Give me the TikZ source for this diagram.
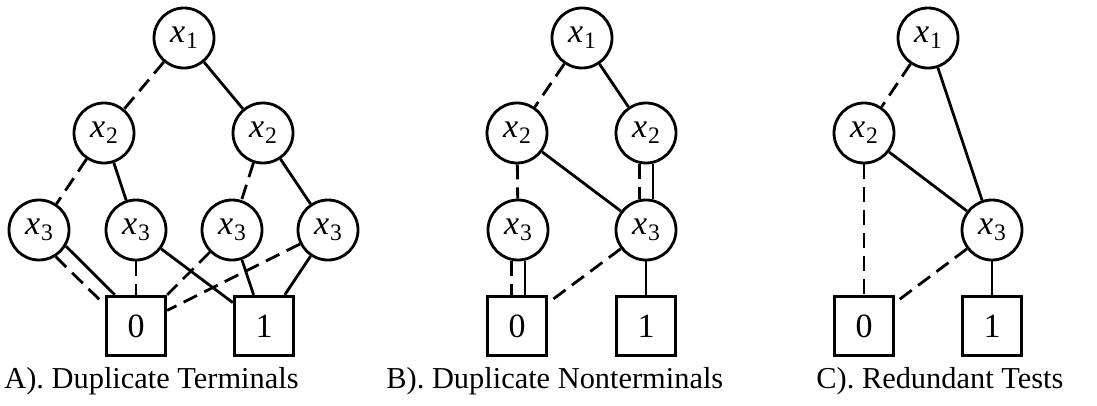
\documentclass[tikz,border=0pt]{standalone}
\usepackage{fontspec}
\setmainfont{Liberation Serif}
\newcommand{\xv}[1]{\textit{x}\kern0.03em\raisebox{-3pt}{\fontsize{11.8}{12}\selectfont #1}}
\begin{document}
\begin{tikzpicture}[x=0.5pt,y=-0.5pt, line width=1.4pt,
  vnode/.style={circle,draw,fill=white,minimum size=30pt,inner sep=0pt,font=\fontsize{17}{17}\selectfont},
  tnode/.style={rectangle,draw,fill=white,minimum size=29.8pt,inner sep=0pt,font=\fontsize{17}{17}\selectfont},
  lo/.style={dash pattern=on 7.5pt off 4pt},
  captext/.style={anchor=base west,inner sep=0pt,font=\fontsize{15.2}{16}\selectfont}]
\useasboundingbox (0,0) rectangle (1097,406);
% Panel A
\node[vnode] (x1A) at (184,38) {\xv{1}};
\node[vnode] (x2A1) at (104,133) {\xv{2}};
\node[vnode] (x2A2) at (263,133) {\xv{2}};
\node[vnode] (x3A1) at (39,230) {\xv{3}};
\node[vnode] (x3A2) at (136,230) {\xv{3}};
\node[vnode] (x3A3) at (232,230) {\xv{3}};
\node[vnode] (x3A4) at (328,230) {\xv{3}};
\node[tnode] (zA) at (136,326) {0};
\node[tnode] (oA) at (264,326) {1};
% Panel B
\node[vnode] (x1B) at (582,38) {\xv{1}};
\node[vnode] (x2B1) at (517,133) {\xv{2}};
\node[vnode] (x2B2) at (646,133) {\xv{2}};
\node[vnode] (x3B1) at (518,230) {\xv{3}};
\node[vnode] (x3B2) at (646,230) {\xv{3}};
\node[tnode] (zB) at (517,326) {0};
\node[tnode] (oB) at (646,326) {1};
% Panel C
\node[vnode] (x1C) at (928,38) {\xv{1}};
\node[vnode] (x2C) at (864,133) {\xv{2}};
\node[vnode] (x3C) at (992,230) {\xv{3}};
\node[tnode] (zC) at (864,326) {0};
\node[tnode] (oC) at (992,326) {1};
% captions
\node[captext] (capA) at (3,388) {A). Duplicate Terminals};
\node[captext] (capB) at (385,388) {B). Duplicate Nonterminals};
\node[captext] (capC) at (815,388) {C). Redundant Tests};
% edges A
\draw[lo] (x1A) -- (x2A1);
\draw (x1A) -- (x2A2);
\draw[lo] (x2A1) -- (x3A1);
\draw (x2A1) -- (x3A2);
\draw[lo] (x2A2) -- (x3A3);
\draw (x2A2) -- (x3A4);
\draw (x3A1.-31.5) -- ([xshift=5pt]zA.north west);
\draw[lo] (x3A1.-58.5) -- ([yshift=-5pt]zA.north west);
\draw[lo] (x3A2) -- (zA);
\draw (x3A2) -- (oA);
\draw[lo] (x3A3) -- (zA);
\draw (x3A3) -- (oA);
\draw[lo] (x3A4) -- (zA);
\draw (x3A4) -- (oA);
% edges B
\draw[lo] (x1B) -- (x2B1);
\draw (x1B) -- (x2B2);
\draw[lo] (x2B1) -- (x3B1);
\draw (x2B1) -- (x3B2);
\draw (x2B2.-77.5) -- (x3B2.77.5);
\draw[lo] (x2B2.-102.5) -- (x3B2.102.5);
\draw (x3B1.-77.5) -- (x3B1.-77.5 |- zB.north);
\draw[lo] (x3B1.-102.5) -- (x3B1.-102.5 |- zB.north);
\draw[lo] (x3B2) -- (zB);
\draw (x3B2) -- (oB);
% edges C
\draw[lo] (x1C) -- (x2C);
\draw (x1C) -- (x3C);
\draw (x2C) -- (x3C);
\draw[lo] (x2C) -- (zC);
\draw[lo] (x3C) -- (zC);
\draw (x3C) -- (oC);
\end{tikzpicture}
\end{document}
